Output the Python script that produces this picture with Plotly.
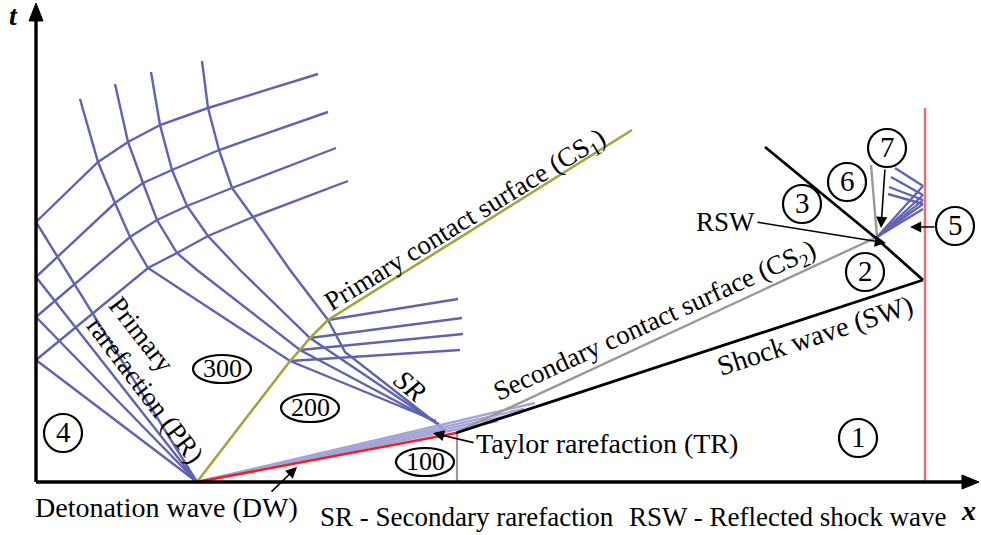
import plotly.graph_objects as go

# ---------------------------------------------------------------------------
# x-t wave diagram (schematic).  All geometry below is read off the picture in
# picture units; the (x, t) plane has its origin where the two axes meet.
# ---------------------------------------------------------------------------
X0, T0 = 36, 482          # origin of the x-t plane on the picture


def X(v):
    return [p - X0 for p in v]


def T(v):
    return [T0 - p for p in v]


# --- primary rarefaction (PR): DW origin -> t axis ------------------------
DW_x, DW_t = 197, 482
PR_axis_t = [222, 277, 317, 360]

# --- reflected PR characteristics leaving the t axis -----------------------
R_lines_x = [
    [36, 98, 128, 160, 208, 318],
    [36, 115, 143, 172, 219, 328],
    [36, 130, 157, 187, 232, 336],
    [36, 148, 177, 208, 253, 348],
]
R_lines_t = [
    [222, 162, 142, 125, 108, 74],
    [277, 203, 183, 170, 150, 112],
    [317, 237, 220, 206, 188, 148],
    [360, 268, 253, 236, 217, 181],
]

# --- secondary rarefaction (SR) characteristics ----------------------------
SR_lines_x = [
    [80, 98, 115, 130, 148, 290, 436],
    [115, 128, 143, 157, 177, 197, 300, 439],
    [151, 160, 172, 187, 208, 240, 310, 442],
    [202, 208, 219, 232, 253, 290, 328, 345, 445],
]
SR_lines_t = [
    [99, 162, 203, 237, 268, 361, 421],
    [84, 142, 183, 220, 253, 270, 350, 424],
    [72, 125, 170, 206, 236, 270, 338, 427],
    [61, 108, 150, 188, 217, 270, 320, 352, 430],
]

# --- SR characteristics transmitted through CS1 ----------------------------
H_lines_x = [[290, 460], [300, 463], [310, 462], [328, 458]]
H_lines_t = [[361, 350], [350, 334], [338, 318], [320, 299]]

# --- Taylor rarefaction (TR) fan --------------------------------------------
TR_end_x = [535, 524, 511, 498]
TR_end_t = [403, 409, 415, 421]

# --- fronts -----------------------------------------------------------------
CS1_x = [197, 290, 300, 310, 328, 632]
CS1_t = [482, 361, 350, 338, 320, 130]
DWf_x = [197, 456]
DWf_t = [482, 433]
SW_x = [456, 923]
SW_t = [433, 280]
RSW_x = [923, 877, 765]
RSW_t = [280, 239, 147]
CS2_x = [457, 877, 871]
CS2_t = [432, 237, 165]
PISTON_x = [457, 457]
PISTON_t = [433, 482]
WALL_x = [925, 925]
WALL_t = [108, 482]

# --- fan behind the reflected shock (near the wall) -------------------------
FAN_origin = (877, 237)
FAN_wall_t = [186, 195, 200, 204, 209]
FAN_refl_x = [895, 891, 889, 888]
FAN_refl_t = [168, 177, 187, 194]

# --- labelled regions --------------------------------------------------------
circle_labels = ["1", "2", "3", "4", "5", "6", "7"]
circle_x = [858, 865, 802, 63, 955, 847, 887]
circle_t = [438, 272, 204, 433, 226, 182, 148]
ellipse_labels = ["100", "200", "300"]
ellipse_x = [425, 310, 222]
ellipse_t = [462, 408, 369]

BLUE = "#5f63b2"
LIGHT = "#a3a5d8"
OLIVE = "#a7a23a"
GREY = "#999999"
RED = "#ff1a1a"
WALLRED = "#f46a6a"
FONT = "Liberation Serif"

fig = go.Figure()


def poly(xs, ts, color, width):
    fig.add_trace(go.Scatter(x=X(xs), y=T(ts), mode="lines",
                             line=dict(color=color, width=width),
                             hoverinfo="skip", showlegend=False))


# PR fan
for tt in PR_axis_t:
    poly([DW_x, 36], [DW_t, tt], BLUE, 2.4)
for xs, ts in zip(R_lines_x, R_lines_t):
    poly(xs, ts, BLUE, 2.4)
for xs, ts in zip(SR_lines_x, SR_lines_t):
    poly(xs, ts, BLUE, 2.4)
for xs, ts in zip(H_lines_x, H_lines_t):
    poly(xs, ts, BLUE, 2.4)
# TR fan
for ex, et in zip(TR_end_x, TR_end_t):
    poly([DW_x, ex], [DW_t, et], LIGHT, 2.4)

# fronts
poly(CS1_x, CS1_t, OLIVE, 2.6)
poly(CS2_x, CS2_t, GREY, 2.4)
poly(PISTON_x, PISTON_t, GREY, 2.2)
poly(WALL_x, WALL_t, WALLRED, 2.4)
poly(DWf_x, DWf_t, RED, 2.6)
poly(SW_x, SW_t, "black", 2.8)
poly(RSW_x, RSW_t, "black", 2.8)

# fan at the wall
for wt in FAN_wall_t:
    poly([FAN_origin[0], 923], [FAN_origin[1], wt], BLUE, 2.2)
for rx, rt, wt in zip(FAN_refl_x, FAN_refl_t, FAN_wall_t):
    poly([923, rx], [wt, rt], BLUE, 2.4)

# axes
poly([36, 964], [482, 482], "black", 3.4)
poly([36, 36], [482, 20], "black", 3.4)
fig.add_trace(go.Scatter(x=X([962, 979, 962, 962]), y=T([475, 482, 489, 475]),
                         mode="lines", fill="toself", fillcolor="black",
                         line=dict(color="black", width=1),
                         hoverinfo="skip", showlegend=False))
fig.add_trace(go.Scatter(x=X([29, 36, 43, 29]), y=T([21, 3, 21, 21]),
                         mode="lines", fill="toself", fillcolor="black",
                         line=dict(color="black", width=1),
                         hoverinfo="skip", showlegend=False))

# circles and ellipses
for lab, cx, ct in zip(circle_labels, circle_x, circle_t):
    r = 19
    fig.add_shape(type="circle", xref="x", yref="y",
                  x0=cx - X0 - r, x1=cx - X0 + r, y0=T0 - ct - r, y1=T0 - ct + r,
                  line=dict(color="black", width=2.2))
    fig.add_annotation(x=cx - X0, y=T0 - ct + 1, text=lab, showarrow=False,
                       font=dict(family=FONT, size=29, color="black"),
                       xanchor="center", yanchor="middle")
for lab, cx, ct in zip(ellipse_labels, ellipse_x, ellipse_t):
    fig.add_shape(type="circle", xref="x", yref="y",
                  x0=cx - X0 - 29, x1=cx - X0 + 29, y0=T0 - ct - 14, y1=T0 - ct + 14,
                  line=dict(color="black", width=2.2))
    fig.add_annotation(x=cx - X0, y=T0 - ct + 1, text=lab, showarrow=False,
                       font=dict(family=FONT, size=26, color="black"),
                       xanchor="center", yanchor="middle")

# pointer arrows: (tip, tail)
arrows = [
    ((297, 467), (270, 493)),   # DW
    ((433, 433), (475, 443)),   # TR
    ((886, 243), (756, 222)),   # RSW
    ((881, 228), (885, 168)),   # 7
    ((910, 227), (936, 227)),   # 5
]
for (tx, ty), (sx, sy) in arrows:
    fig.add_annotation(x=tx - X0, y=T0 - ty, ax=sx - X0, ay=T0 - sy,
                       xref="x", yref="y", axref="x", ayref="y", text="",
                       showarrow=True, arrowhead=2, arrowsize=1.4,
                       arrowwidth=1.6, arrowcolor="black")

# text labels: (text, x, t, angle, size)
texts = [
    ("<b><i>t</i></b>", 13, 15, 0, 28),
    ("<b><i>x</i></b>", 968, 510, 0, 28),
    ("Detonation wave (DW)", 166, 507, 0, 28),
    ("SR - Secondary rarefaction", 467, 517, 0, 27),
    ("RSW - Reflected shock wave", 787, 517, 0, 27),
    ("Taylor rarefaction (TR)", 607, 443, 0, 28),
    ("RSW", 725, 222, 0, 27),
    ("Shock wave (SW)", 815, 335, -18, 28),
    ("Secondary contact surface (CS<sub>2</sub>)", 655, 322, -24.5, 27),
    ("Primary contact surface (CS<sub>1</sub>)", 466, 221, -31.5, 27),
    ("<i>SR</i>", 410, 385, 40, 28),
    ("Primary", 141, 334, 52, 27),
    ("rarefaction (PR)", 145, 390, 53, 27),
]
for txt, tx, ty, ang, sz in texts:
    fig.add_annotation(x=tx - X0, y=T0 - ty, text=txt, showarrow=False,
                       textangle=ang, font=dict(family=FONT, size=sz, color="black"),
                       xanchor="center", yanchor="middle")

fig.update_layout(
    width=981, height=535,
    margin=dict(l=0, r=0, t=0, b=0),
    paper_bgcolor="white", plot_bgcolor="white",
    xaxis=dict(range=[-X0, 981 - X0], visible=False, fixedrange=True),
    yaxis=dict(range=[T0 - 535, T0], visible=False, fixedrange=True),
    showlegend=False,
)
fig.write_html("out.html")
